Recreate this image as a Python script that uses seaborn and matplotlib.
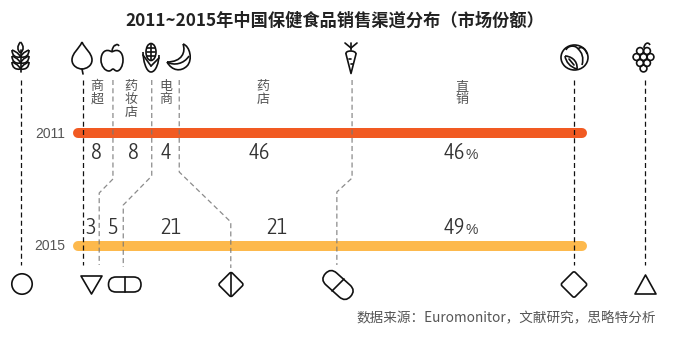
import matplotlib
matplotlib.use("Agg")
import matplotlib.pyplot as plt
import pandas as pd
import seaborn as sns
from matplotlib import font_manager as fm
from matplotlib.patches import Circle, Ellipse, FancyBboxPatch, PathPatch, Polygon
from matplotlib.path import Path
from matplotlib.transforms import Affine2D, blended_transform_factory

channels = ["商超", "药妆店", "电商", "药店", "直销"]
years = [2011, 2015]
share_2011 = [8, 8, 4, 46, 46]
share_2015 = [3, 5, 21, 21, 49]
# where the dashed dividers cross each bar, in percent
edges_2011 = [6.1, 14.0, 19.6, 54.8]
edges_2015 = [3.3, 8.2, 30.1, 51.7]

sns.set_theme(style="white")
cjk = ["Noto Sans CJK SC", "DejaVu Sans"]
plt.rcParams["font.family"] = cjk

# pick an upright narrow face if this machine has one
condensed = [f for f in fm.fontManager.ttflist
             if f.style == "normal" and ("Condensed" in f.name or "Narrow" in f.name
                                         or f.stretch in ("condensed", "extra-condensed"))]
narrow_prop = dict(family=["Liberation Sans"])
if condensed:
    pick = sorted(condensed, key=lambda f: (abs(int(f.weight) - 300) if str(f.weight).isdigit() else 100, f.name))[0]
    narrow_prop = dict(fontproperties=fm.FontProperties(fname=pick.fname))

W, H = 681, 364
fig = plt.figure(figsize=(W / 100, H / 100), dpi=100)

# share axis: 0% at 83px, 100% at 574px; year axis: 2011 at 133px, 2015 at 246px
ax = fig.add_axes([0, 0, 1, 1])

bars = pd.DataFrame({
    "share": [-1.0, 101.6, -1.0, 101.6],
    "year": [2011, 2011, 2015, 2015],
    "group": ["a", "a", "b", "b"],
})
sns.lineplot(data=bars, x="share", y="year", hue="group", palette=["#f15a22", "#fdb94d"],
             estimator=None, sort=False, linewidth=7.2, legend=False, ax=ax)
for ln in ax.get_lines():
    ln.set_solid_capstyle("round")
ax.set_xlim(-83 / 4.91, (W - 83) / 4.91)
ax.set_ylim(2011 + (H - 133) / 28.25, 2011 - 133 / 28.25)
ax.axis("off")

# everything else in pixel coordinates
ov = fig.add_axes([0, 0, 1, 1], zorder=3)
ov.set_xlim(0, W)
ov.set_ylim(H, 0)
ov.axis("off")
ov.patch.set_alpha(0)

share_y = blended_transform_factory(ax.transData, ov.transData)
dash = dict(lw=0.9, dashes=(4, 2.6))

# straight black dividers
for x in (21, 83, 574, 645):
    ov.plot([x, x], [80, 265], color="#111111", **dash)

# elbows between the two bars
elbows = [(80, 179, 193, 265), (80, 176, 205, 267), (80, 172, 222, 268), (80, 178, 192, 265)]
for b11, b15, (y0, y1, y2, y3) in zip(edges_2011, edges_2015, elbows):
    ax.plot([b11, b11, b15, b15], [y0, y1, y2, y3], transform=share_y, color="#777777",
            alpha=0.85, zorder=3, **dash)

# title and footnote
ov.text(335, 21, "2011~2015年中国保健食品销售渠道分布（市场份额）", ha="center", va="center",
        fontsize=12.4, fontweight="bold", color="#222222")
ov.text(656, 318, "数据来源：Euromonitor，文献研究，思略特分析", ha="right", va="center",
        fontsize=9.8, color="#555555")

# year labels
for yr, y in zip(years, (134, 246)):
    ov.text(65, y, str(yr), ha="right", va="center", fontsize=10,
            family=["Liberation Sans"], color="#555555")

# channel names set vertically
for name, x in zip(channels, (97, 131, 166, 263, 462)):
    ov.text(x, 80, "\n".join(name), ha="center", va="top", fontsize=9.4, linespacing=1.0,
            color="#555555")


def value_label(v, x, y, pct=False):
    ov.text(x, y, str(v), ha="center", va="center", fontsize=16.5, color="#333333", **narrow_prop)
    if pct:
        ov.text(x + 11, y + 2, "%", ha="left", va="center", fontsize=10,
                family=["Liberation Sans"], color="#444444")


for v, x in zip(share_2011, (96.5, 133, 166, 259.5, 454)):
    value_label(v, x, 153, pct=x == 454)
for v, x in zip(share_2015, (91, 113, 171, 277, 454)):
    value_label(v, x, 228, pct=x == 454)

# icons
INK = "#111111"
ink = dict(color=INK, lw=1.2, solid_capstyle="round", solid_joinstyle="round")
pk = dict(fill=False, edgecolor=INK, lw=1.2, joinstyle="round")


def curve(verts):
    codes = [Path.MOVETO] + [Path.CURVE4] * (len(verts) - 1)
    ov.add_patch(PathPatch(Path(verts, codes), **pk))


# wheat
ov.plot([20.5, 20.5], [50, 72], **ink)
for y in (55, 61, 67):
    curve([(20.5, y + 2), (18, y - 3), (14, y - 4), (12, y - 5)])
    curve([(12, y - 5), (12, y), (15, y + 3), (20.5, y + 2)])
    curve([(20.5, y + 2), (23, y - 3), (27, y - 4), (29, y - 5)])
    curve([(29, y - 5), (29, y), (26, y + 3), (20.5, y + 2)])
curve([(20.5, 42), (17, 46), (17, 50), (20.5, 53)])
curve([(20.5, 42), (24, 46), (24, 50), (20.5, 53)])

# leaf
curve([(82, 42), (85, 49), (92, 53), (92, 60), (92, 66), (86, 69), (82, 69),
       (78, 69), (72, 66), (72, 60), (72, 53), (79, 49), (82, 42)])
ov.plot([82, 83], [69, 74], **ink)

# apple
curve([(112, 52), (106, 48), (101, 52), (101, 60), (101, 66), (105, 71), (109, 71),
       (111, 71), (112, 69), (113, 69), (114, 69), (115, 71), (117, 71),
       (120, 71), (123, 66), (123, 60), (123, 52), (118, 48), (112, 52)])
curve([(112, 52), (112, 49), (113, 47), (115, 45)])
curve([(115, 46), (116, 44), (118, 44), (119, 46)])

# corn
ov.add_patch(Ellipse((151, 52), 10, 17, **pk))
for y in (48, 52, 56):
    ov.plot([147, 155], [y, y], **ink)
ov.plot([151, 151], [44, 60], **ink)
curve([(143, 52), (143, 60), (146, 72), (151, 72)])
curve([(159, 55), (159, 62), (156, 72), (151, 72)])
ov.plot([143, 151], [55, 66], **ink)
ov.plot([159, 151], [58, 66], **ink)

# banana
curve([(183, 44), (190, 46), (193, 60), (187, 66), (181, 72), (172, 71), (167, 62)])
curve([(183, 44), (186, 52), (182, 62), (167, 62)])
curve([(167, 62), (174, 66), (184, 64), (189, 56)])

# carrot
curve([(346, 54), (345, 50), (356, 50), (356, 54)])
ov.plot([346, 351, 356], [54, 73.5, 54], **ink)
ov.plot([351, 351], [43, 50], **ink)
ov.plot([345, 351], [43, 48], **ink)
ov.plot([357, 351], [43, 48], **ink)
ov.plot([349, 351], [59, 59], **ink)
ov.plot([353, 351], [64, 64], **ink)

# cabbage
ov.add_patch(Ellipse((574.5, 57.5), 27, 25, **pk))
curve([(566, 50), (568, 45), (576, 45), (578, 49)])
curve([(578, 49), (582, 45), (586, 50), (587, 54)])
curve([(565, 56), (570, 56), (578, 60), (577, 69)])
curve([(565, 56), (566, 62), (570, 67), (577, 69)])
curve([(578, 49), (582, 52), (584, 58), (582, 65)])
ov.plot([569, 574], [59, 65], **ink)

# grapes
for cx, cy in [(640, 51), (647, 51), (636.5, 57), (643.5, 57), (650.5, 57),
               (640, 63), (647, 63), (643.5, 68.5)]:
    ov.add_patch(Circle((cx, cy), 3.4, **pk))
curve([(644, 48), (644, 44), (648, 41), (650, 45)])

# shapes under the chart
ov.add_patch(Circle((22, 284), 10.2, **pk))
ov.add_patch(Polygon([(81, 276), (102, 276), (91.5, 294)], **pk))
ov.add_patch(FancyBboxPatch((108.5, 277), 32.5, 15, boxstyle="round,pad=0,rounding_size=7.5", **pk))
ov.plot([125, 125], [277, 292], **ink)


def diamond(cx, cy, half):
    rot = Affine2D().rotate_deg_around(cx, cy, 45) + ov.transData
    ov.add_patch(FancyBboxPatch((cx - half, cy - half), 2 * half, 2 * half,
                                boxstyle="round,pad=0,rounding_size=2", transform=rot, **pk))


diamond(231, 284.5, 9)
ov.plot([231, 231], [273, 296], **ink)
capsule = Affine2D().rotate_deg_around(338, 285, 42) + ov.transData
ov.add_patch(FancyBboxPatch((321, 277), 34, 16, boxstyle="round,pad=0,rounding_size=8",
                            transform=capsule, **pk))
ov.plot([332, 344], [291, 279], **ink)
diamond(574, 284.5, 9.5)
ov.add_patch(Polygon([(635, 294), (656, 294), (645.5, 275)], **pk))

fig.savefig("out.png", dpi=100)
